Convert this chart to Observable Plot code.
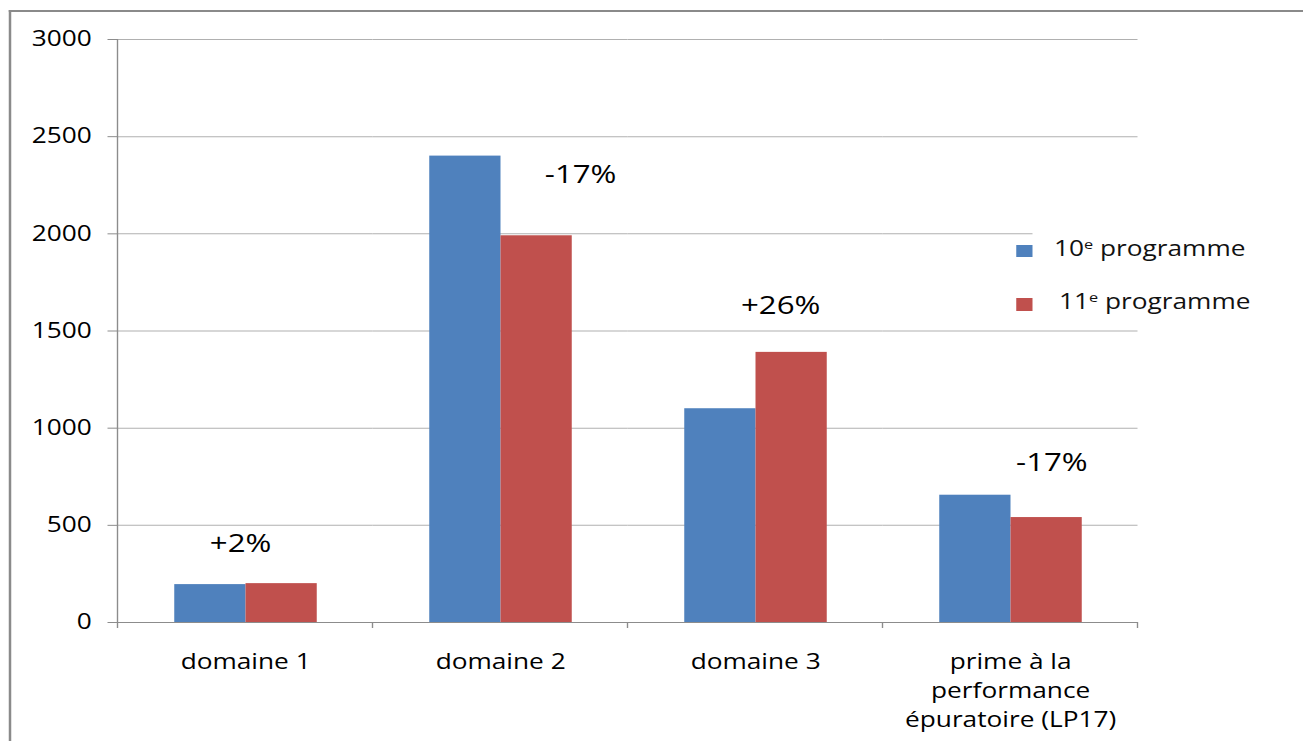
<!DOCTYPE html>
<html>
<head>
<meta charset="utf-8">
<script src="https://cdn.jsdelivr.net/npm/d3@7"></script>
<script src="https://cdn.jsdelivr.net/npm/@observablehq/plot@0.6"></script>
<style>
  html, body { margin: 0; padding: 0; background: #fff; overflow: hidden; }
  #wrap { position: absolute; left: 0; top: 0; width: 1042.4px; height: 741px;
          transform: scaleX(1.25); transform-origin: 0 0; font-family: "Open Sans", sans-serif; }
  #frame { position: absolute; left: 7.2px; top: 10px; width: 2000px; height: 2000px;
           border-left: 2.4px solid #8a8a8a; border-top: 2.5px solid #8a8a8a; pointer-events: none; }
  #legend { position: absolute; left: 825.6px; top: 226px; width: 210px; height: 94px; background: #fff; }
  .item { position: absolute; font-size: 21px; color: #111; white-space: nowrap; line-height: 1; }
  .sw { position: absolute; width: 13.6px; }
  sup { font-size: 0.62em; vertical-align: 0; position: relative; top: -0.55em; }
</style>
</head>
<body>
<div id="wrap">
  <div id="chart"></div>
  <div id="legend"></div>
  <div id="frame"></div>
</div>
<script>
// ---- data ----
const categories = ["domaine 1", "domaine 2", "domaine 3", "prime à la performance épuratoire (LP17)"];
const categoryLabels = ["domaine 1", "domaine 2", "domaine 3", "prime à la\nperformance\népuratoire (LP17)"];
const seriesKeys = ["10e", "11e"];
const seriesNames = ["10", "11"];
const values10 = [195, 2400, 1100, 655];
const values11 = [200, 1990, 1390, 540];
const changeLabels = ["+2%", "-17%", "+26%", "-17%"];
const changeLabelY = [406, 2303, 1629, 823];
const yTicks = [0, 500, 1000, 1500, 2000, 2500, 3000];

// ---- table built from arrays ----
const rows = [];
categories.forEach((c, i) => {
  rows.push({cat: c, series: seriesKeys[0], value: values10[i]});
  rows.push({cat: c, series: seriesKeys[1], value: values11[i]});
});
const colors = ["#4F81BD", "#C0504D"];
const axisGray = "#8c8c8c";
const labelDx = [-4, 64, 20, 33];

const annotations = changeLabels.map((t, i) =>
  Plot.text([{cat: categories[i], y: changeLabelY[i], t}], {
    fx: "cat", y: "y", text: "t", dx: labelDx[i], fontSize: 25, fill: "#000"
  })
);

const plot = Plot.plot({
  width: 1042,
  height: 741,
  marginLeft: 93.6,
  marginRight: 131.6,
  marginTop: 39,
  marginBottom: 119,
  style: {fontFamily: "Open Sans", fontSize: "21px", color: "#000", background: "transparent"},
  fx: {domain: categories, padding: 0, label: null},
  x: {domain: seriesKeys, paddingInner: 0, paddingOuter: 0.76, axis: null},
  y: {domain: [0, 3000], label: null},
  color: {domain: seriesKeys, range: colors},
  marks: [
    Plot.gridY(yTicks, {stroke: "#b0b0b0", strokeOpacity: 1}),
    Plot.axisY(yTicks, {tickSize: 8, tickPadding: 13, stroke: axisGray, fill: "#000", label: null, fontSize: 21,
      tickFormat: d3.format("d")}),
    Plot.axisFx({anchor: "bottom", tickSize: 0, tickPadding: 26, lineHeight: 1.38, label: null, fontSize: 21,
      fill: "#000", tickFormat: d => categoryLabels[categories.indexOf(d)]}),
    Plot.barY(rows, {fx: "cat", x: "series", y: "value", fill: "series"}),
    Plot.ruleY([0], {stroke: axisGray}),
    ...annotations
  ]
});
document.getElementById("chart").appendChild(plot);

// axis line and category boundary ticks from the plot's own scales
const fx = plot.scale("fx"), y = plot.scale("y");
const g = d3.select(plot).append("g").attr("stroke", axisGray).attr("stroke-width", 1.1);
const y0 = y.apply(0);
const x0 = fx.apply(categories[0]);
g.append("line").attr("x1", x0).attr("x2", x0).attr("y1", y.apply(3000)).attr("y2", y0 + 6);
const bounds = categories.slice(1).map(c => fx.apply(c));
bounds.push(fx.apply(categories[categories.length - 1]) + fx.bandwidth);
bounds.forEach(b => g.append("line").attr("x1", b).attr("x2", b).attr("y1", y0).attr("y2", y0 + 6));

// legend
const legend = document.getElementById("legend");
const legendTop = [19, 72];
const swH = [12, 13];
const textLeft = [17.6, 21.6];
seriesNames.forEach((n, i) => {
  const sw = document.createElement("div");
  sw.className = "sw";
  sw.style.left = "-12.8px";
  sw.style.top = legendTop[i] + "px";
  sw.style.height = swH[i] + "px";
  sw.style.background = colors[i];
  legend.appendChild(sw);
  const t = document.createElement("div");
  t.className = "item";
  t.style.left = textLeft[i] + "px";
  t.style.top = (legendTop[i] - 7) + "px";
  t.innerHTML = n + "<sup>e</sup> programme";
  legend.appendChild(t);
});
</script>
</body>
</html>
